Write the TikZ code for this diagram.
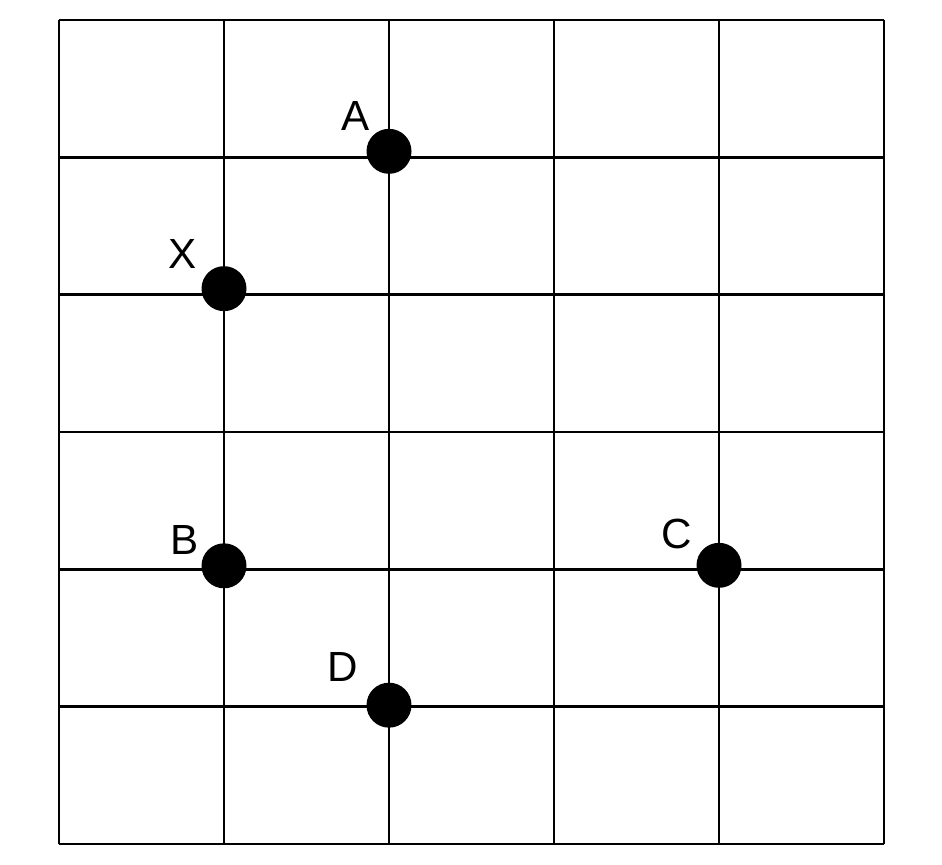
\documentclass[tikz,border=0pt]{standalone}
\usepackage{fontspec}
\setmainfont{Liberation Sans}
\usetikzlibrary{positioning}

\begin{document}
\begin{tikzpicture}[
  x=3.3cm, y=2.7467cm,
  dot/.style={circle, fill=black, inner sep=0pt, minimum size=0.9cm},
  lbl/.style={inner sep=0pt, font=\fontsize{24}{28}\selectfont}
]
\useasboundingbox (-0.3576,-0.1456) rectangle (5.3515,6.1456);
\draw[line width=1.4pt, xstep=3.3cm, ystep=2.7467cm] (0,0) grid (5,6);

\node[dot, yshift=0.12cm] (A) at (2,5) {};
\node[dot, yshift=0.12cm] (X) at (1,4) {};
\node[dot, yshift=0.07cm] (B) at (1,2) {};
\node[dot, yshift=0.08cm] (C) at (4,2) {};
\node[dot, yshift=0.03cm] (D) at (2,1) {};

\node[lbl, above left=0.08cm and 0.05cm of A] (labA) {A};
\node[lbl, above left=0.08cm and 0.22cm of X] (labX) {X};
\node[lbl, above left=-0.1cm and 0.18cm of B] (labB) {B};
\node[lbl, above left=0cm and 0.22cm of C] (labC) {C};
\node[lbl, above left=0.14cm and 0.3cm of D] (labD) {D};
\end{tikzpicture}
\end{document}
